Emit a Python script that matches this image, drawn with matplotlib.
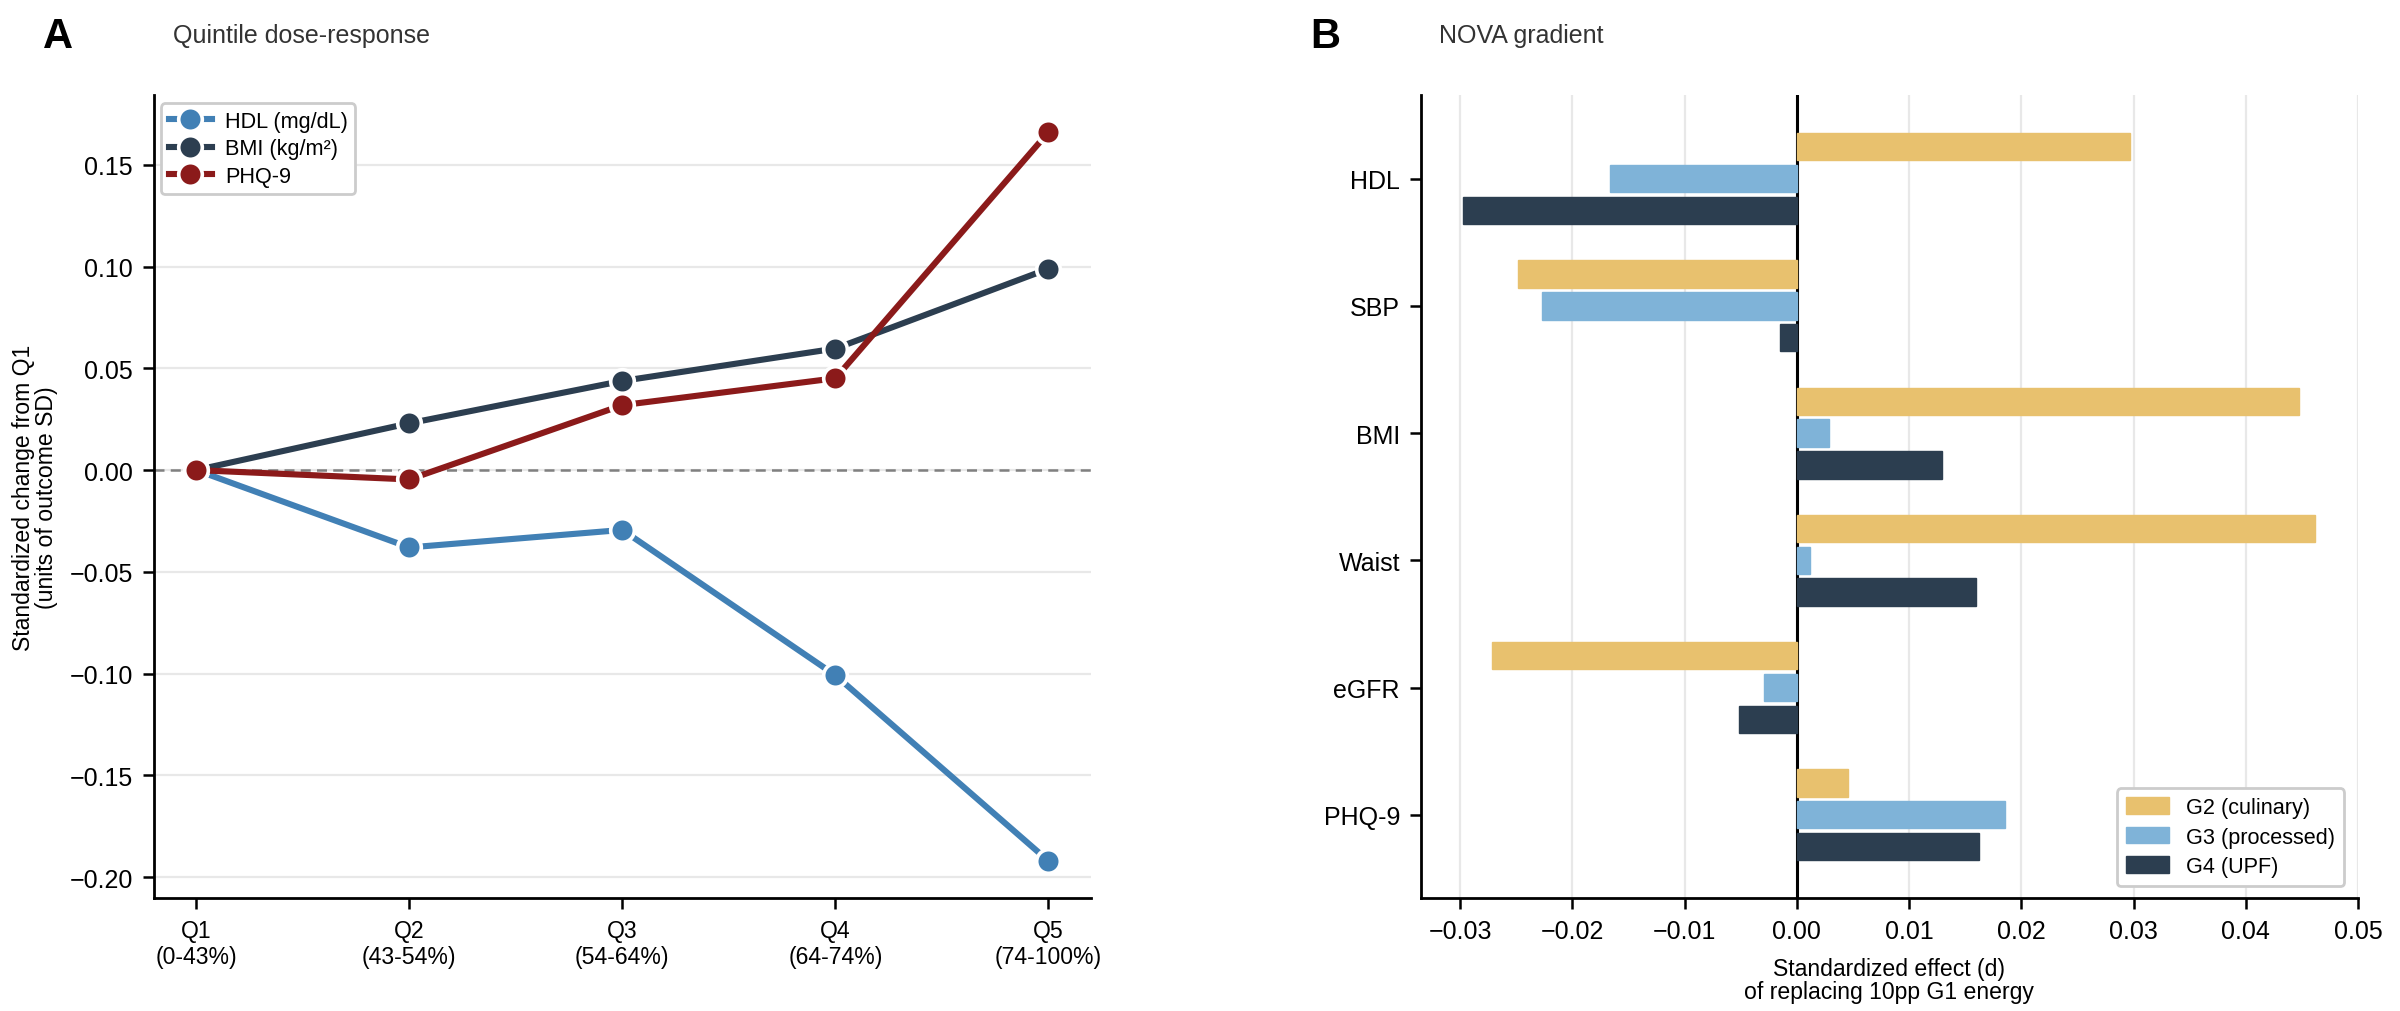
import matplotlib
matplotlib.use("Agg")
import matplotlib.pyplot as plt
import numpy as np

plt.rcParams['font.family'] = ['Liberation Sans', 'DejaVu Sans']

# ---- Panel A data ----
quintiles = ["Q1\n(0-43%)", "Q2\n(43-54%)", "Q3\n(54-64%)", "Q4\n(64-74%)", "Q5\n(74-100%)"]
hdl = [0.0, -0.038, -0.0294, -0.1008, -0.192]
bmi = [0.0, 0.023, 0.0438, 0.0597, 0.0989]
phq = [0.0, -0.0046, 0.0319, 0.0451, 0.166]
series_names = ["HDL (mg/dL)", "BMI (kg/m²)", "PHQ-9"]
series_colors = ["#4180b5", "#2c3e50", "#8b1a1a"]

# ---- Panel B data ----
outcomes = ["HDL", "SBP", "BMI", "Waist", "eGFR", "PHQ-9"]
g2 = [0.0297, -0.0248, 0.0447, 0.0462, -0.0272, 0.0046]
g3 = [-0.01665, -0.0227, 0.00284, 0.00118, -0.00296, 0.01858]
g4 = [-0.0297, -0.00148, 0.01296, 0.01597, -0.00511, 0.01625]
group_names = ["G2 (culinary)", "G3 (processed)", "G4 (UPF)"]
group_colors = ["#e8c16e", "#7fb3d8", "#2c3e50"]

fig = plt.figure(figsize=(12, 5.06), dpi=200)
axA = fig.add_axes([0.0640, 0.1117, 0.3906, 0.7933])
axB = fig.add_axes([0.5920, 0.1117, 0.3905, 0.7933])

# ---- Panel A ----
x = np.arange(len(quintiles))
axA.axhline(0, color="#808080", lw=0.9, ls=(0, (4, 2.5)), zorder=1)
for vals, name, col in zip([hdl, bmi, phq], series_names, series_colors):
    axA.plot(x, vals, color=col, lw=2.2, marker="o", ms=8.5,
             markeredgecolor="white", markeredgewidth=1.3, label=name, zorder=3)
axA.set_xlim(-0.2, 4.2)
axA.set_ylim(-0.2102, 0.1842)
axA.set_xticks(x)
axA.set_xticklabels(quintiles, fontsize=8.3)
yt = [-0.20, -0.15, -0.10, -0.05, 0.00, 0.05, 0.10, 0.15]
axA.set_yticks(yt)
axA.set_yticklabels([f"{v:.2f}".replace("-", "\u2212") for v in yt], fontsize=9)
axA.yaxis.grid(True, color="#e8e8e8", lw=0.8, zorder=0)
axA.set_axisbelow(True)
axA.set_ylabel("Standardized change from Q1\n(units of outcome SD)", fontsize=8.3, labelpad=4, linespacing=1.0)
for s in ["top", "right"]:
    axA.spines[s].set_visible(False)
for s in ["left", "bottom"]:
    axA.spines[s].set_linewidth(1.0)
axA.tick_params(direction="out", length=4, width=0.9)
legA = axA.legend(loc="upper left", fontsize=7.8, frameon=True, fancybox=True,
                  edgecolor="#cccccc", framealpha=1.0, borderpad=0.35,
                  handlelength=2.0, handletextpad=0.6, labelspacing=0.3,
                  borderaxespad=0.0, bbox_to_anchor=(0.008, 0.99))
legA.get_frame().set_linewidth(1.0)

# ---- Panel B ----
y = np.arange(len(outcomes))
h = 0.215
offsets = [-0.25, 0.0, 0.25]
axB.axvline(0, color="black", lw=1.1, zorder=1)
for vals, name, col, off in zip([g2, g3, g4], group_names, group_colors, offsets):
    axB.barh(y + off, vals, height=h, color=col, label=name, zorder=2,
             edgecolor=col, linewidth=0.5)
axB.set_ylim(5.654, -0.656)
axB.set_xlim(-0.0335, 0.05)
axB.set_yticks(y)
axB.set_yticklabels(outcomes, fontsize=9)
xt = [-0.03, -0.02, -0.01, 0.00, 0.01, 0.02, 0.03, 0.04, 0.05]
axB.set_xticks(xt)
axB.set_xticklabels([f"{v:.2f}".replace("-", "\u2212") for v in xt], fontsize=9)
axB.xaxis.grid(True, color="#e8e8e8", lw=0.8, zorder=0)
axB.set_axisbelow(True)
axB.set_xlabel("Standardized effect (d)\nof replacing 10pp G1 energy", fontsize=8.3, linespacing=1.0, labelpad=5)
for s in ["top", "right"]:
    axB.spines[s].set_visible(False)
for s in ["left", "bottom"]:
    axB.spines[s].set_linewidth(1.0)
axB.tick_params(direction="out", length=4, width=0.9)
legB = axB.legend(loc="lower right", fontsize=7.8, frameon=True, fancybox=True,
                  edgecolor="#cccccc", framealpha=1.0, borderpad=0.4,
                  handlelength=2.0, handleheight=0.8, labelspacing=0.4,
                  borderaxespad=0.0, bbox_to_anchor=(0.985, 0.015))
legB.get_frame().set_linewidth(1.0)

# ---- Panel labels and titles ----
fig.text(0.018, 0.953, "A", fontsize=15, fontweight="bold", ha="left", va="baseline")
fig.text(0.072, 0.958, "Quintile dose-response", fontsize=9, color="#333333", ha="left", va="baseline")
fig.text(0.546, 0.953, "B", fontsize=15, fontweight="bold", ha="left", va="baseline")
fig.text(0.5996, 0.958, "NOVA gradient", fontsize=9, color="#333333", ha="left", va="baseline")

fig.savefig("out.png", dpi=200)
